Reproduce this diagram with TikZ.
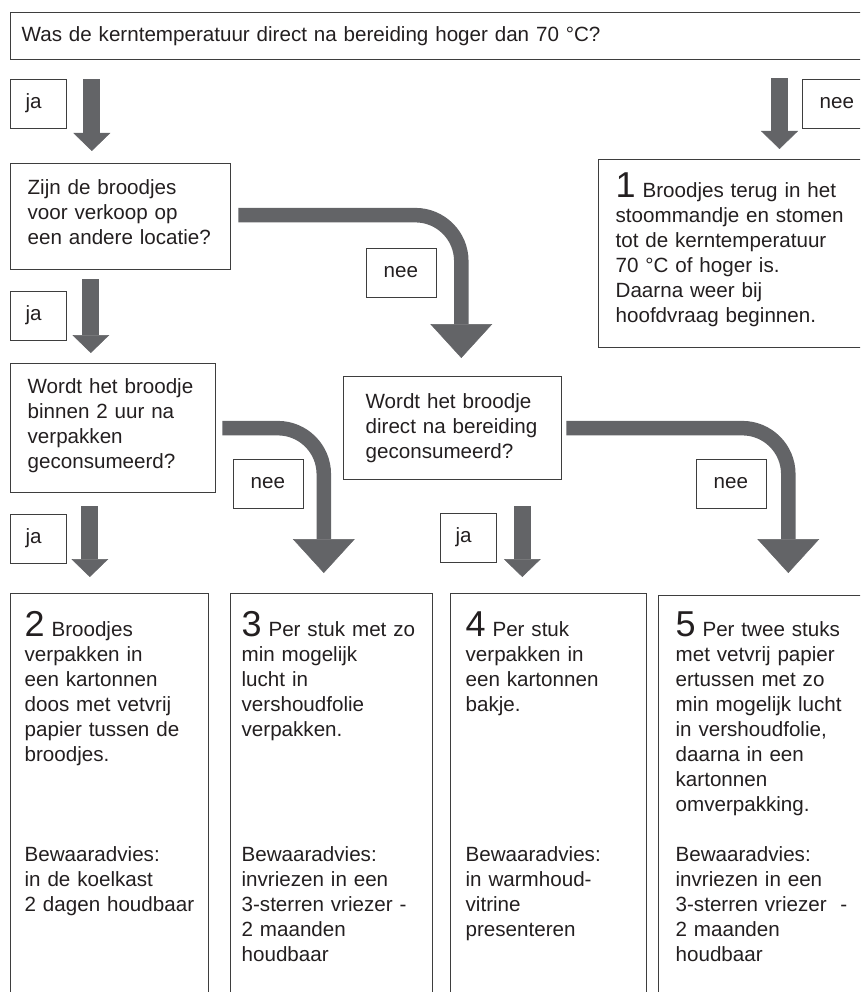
\documentclass[tikz,border=0pt]{standalone}
\usepackage{fontspec}
\setmainfont{Liberation Sans}
\usetikzlibrary{positioning,calc,arrows.meta}

\definecolor{inkgray}{RGB}{35,31,32}
\definecolor{boxgray}{RGB}{62,62,62}
\definecolor{arrowgray}{RGB}{99,100,103}

\newcommand{\bignum}[1]{{\fontsize{36}{36}\selectfont #1\ }}

\tikzset{
  box/.style={draw=boxgray, line width=1.3pt, anchor=north west, align=left,
    inner ysep=0pt, text=inkgray, font=\fontsize{20.6}{25}\selectfont},
  lbl/.style={box, text height=28.7pt, text depth=20.3pt},
  downarrow/.style={draw=arrowgray, line width=17pt,
    -{Triangle[width=37pt,length=18pt,line width=0.5pt]}},
  bendarrow/.style={draw=arrowgray, line width=14.5pt, rounded corners=46pt,
    -{Triangle[width=62pt,length=34pt,line width=0.5pt]}},
}

\begin{document}
\begin{tikzpicture}[x=1pt,y=-1pt]
\path[use as bounding box, clip] (0,0) rectangle (860,992);

% vragen
\node[box, inner xsep=11pt, text width=900pt, text height=28.5pt, text depth=18.5pt] (q0) at (10,12)
  {Was de kerntemperatuur direct na bereiding hoger dan 70~°C?};
\node[box, inner xsep=17pt, text width=186pt, text height=31pt, text depth=75pt] (q1) at (10,163)
  {Zijn de broodjes\\ voor verkoop op\\ een andere locatie?};
\node[box, inner xsep=17pt, text width=171pt, text height=29.7pt, text depth=99.3pt] (q2) at (10,363)
  {Wordt het broodje\\ binnen 2 uur na\\ verpakken\\ geconsumeerd?};
\node[box, inner xsep=22pt, text width=174pt, text height=31.7pt, text depth=71.3pt] (q3) at (343,376)
  {Wordt het broodje\\ direct na bereiding\\ geconsumeerd?};

% uitkomsten
\node[box, inner xsep=17pt, text width=260pt, text height=38.3pt, text depth=149.7pt] (b1) at (598,159)
  {\bignum{1}Broodjes terug in het\\ stoommandje en stomen\\ tot de kerntemperatuur\\ 70~°C of hoger is.\\ Daarna weer bij\\ hoofdvraag beginnen.};
\node[box, inner xsep=14pt, text width=170pt, text height=42.5pt, text depth=365pt] (b2) at (10,593)
  {\bignum{2}Broodjes\\ verpakken in\\ een kartonnen\\ doos met vetvrij\\ papier tussen de\\ broodjes.\\[75pt]
   Bewaaradvies:\\ in de koelkast\\ 2 dagen houdbaar};
\node[box, inner xsep=11pt, text width=180pt, text height=42.5pt, text depth=365pt] (b3) at (230,593)
  {\bignum{3}Per stuk met zo\\ min mogelijk\\ lucht in\\ vershoudfolie\\ verpakken.\\[100pt]
   Bewaaradvies:\\ invriezen in een\\ 3-sterren vriezer -\\ 2 maanden\\ houdbaar};
\node[box, inner xsep=15pt, text width=166pt, text height=42.5pt, text depth=365pt] (b4) at (450,593)
  {\bignum{4}Per stuk\\ verpakken in\\ een kartonnen\\ bakje.\\[125pt]
   Bewaaradvies:\\ in warmhoud-\\ vitrine\\ presenteren};
\node[box, inner xsep=17pt, text width=220pt, text height=40.5pt, text depth=365pt] (b5) at (658,595)
  {\bignum{5}Per twee stuks\\ met vetvrij papier\\ ertussen met zo\\ min mogelijk lucht\\ in vershoudfolie,\\ daarna in een\\ kartonnen\\ omverpakking.\\[25pt]
   Bewaaradvies:\\ invriezen in een\\ 3-sterren vriezer\ \ -\\ 2 maanden\\ houdbaar};

% ja / nee
\node[lbl, inner xsep=15pt, text width=26pt] (ja1) at (10,79) {ja};
\node[lbl, inner xsep=15pt, text width=26pt] (ja2) at (10,291) {ja};
\node[lbl, inner xsep=15pt, text width=26pt] (ja3) at (10,514) {ja};
\node[lbl, inner xsep=15pt, text width=26pt] (ja4) at (440,513) {ja};
\node[lbl, inner xsep=17pt, text width=60pt] (nee1) at (802,79) {nee};
\node[lbl, inner xsep=17pt, text width=36pt] (nee2) at (366,248) {nee};
\node[lbl, inner xsep=17pt, text width=36pt] (nee3) at (233,459) {nee};
\node[lbl, inner xsep=17pt, text width=36pt] (nee4) at (696,459) {nee};

%%%%%%%%%%%%%%%%%%%%%%%%%%%%%%%%%%%%%%%%%%%%%%%%%%%%%%%%%%%%%%%%

\foreach \n/\lab/\dx/\src/\dst/\sa/\sb in {
    1/ja1.east/24.5/q0/q1/19/12,
    2/ja2.east/23.5/q1/q2/9/10,
    3/ja3.east/22.5/q2/b2/13/16,
    4/ja4.east/25/q3/b4/26/16,
    5/nee1.west/-22.5/q0/b1/18/10} {
	\coordinate (ax\n) at ($(\lab)+(\dx,0)$);
	\draw [downarrow, shorten <=\sa pt, shorten >=\sb pt] (\src.south -| ax\n) -- (\dst.north -| ax\n);
}

\coordinate (k1) at ($(nee2.east)+(24,0)$);
\coordinate (k2) at ($(nee3.east)+(19.5,0)$);
\coordinate (k3) at ($(nee4.east)+(21,0)$);

\draw [bendarrow, shorten >=18pt] ([shift={(7,-1.5)}]q1.east) -| (q3.north -| k1);
\draw [bendarrow, shorten >=20pt] ([xshift=6pt]q2.east) -| (b3.north -| k2);
\draw [bendarrow, shorten >=22pt] ([xshift=4pt]q3.east) -| (b5.north -| k3);

\end{tikzpicture}
\end{document}
